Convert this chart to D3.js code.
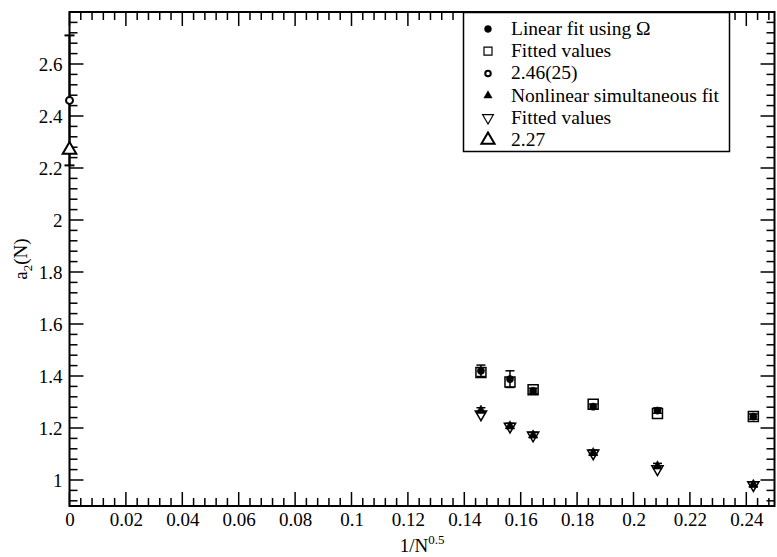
<!DOCTYPE html>
<html><head><meta charset="utf-8">
<script src="https://cdn.jsdelivr.net/npm/d3@7"></script>
<style>body{margin:0;background:#fff}svg{display:block}svg text{font-family:"Liberation Serif","Times New Roman","DejaVu Serif",serif !important;fill:#000}</style>
</head><body><svg id="c" width="777" height="557" font-family="Liberation Serif, Times New Roman, DejaVu Serif, serif"></svg>
<script>
const xs = [0.1459, 0.1562, 0.1644, 0.1857, 0.2085, 0.2425];
const linearFit = [1.420, 1.388, 1.343, 1.282, 1.267, 1.244];
const linearErr = [0.022, 0.032, 0.010, 0.010, 0.010, 0.010];
const linearFitted = [1.413, 1.377, 1.347, 1.291, 1.256, 1.244];
const nonlinFit = [1.268, 1.208, 1.173, 1.105, 1.054, 0.983];
const nonlinErr = [0.010, 0.010, 0.010, 0.010, 0.010, 0.010];
const nonlinFitted = [1.253, 1.206, 1.172, 1.103, 1.042, 0.981];
const extrapLinear = {x: 0, y: 2.46, err: 0.25};
const extrapNonlin = {x: 0, y: 2.27};
const legendLabels = ["Linear fit using \u03A9", "Fitted values", "2.46(25)", "Nonlinear simultaneous fit", "Fitted values", "2.27"];
const xTickVals = d3.range(0, 0.2401, 0.02);
const yTickVals = [1, 1.2, 1.4, 1.6, 1.8, 2, 2.2, 2.4, 2.6];

const FONT = "Liberation Serif, Times New Roman, DejaVu Serif, serif";
const svg = d3.select("#c");
const L = 69.5, R = 774.5, T = 12, B = 506;
const x = d3.scaleLinear().domain([0, 0.25]).range([L, R]);
const y = d3.scaleLinear().domain([0.9, 2.8]).range([B, T]);

const fmt = v => d3.format(".2f")(v).replace(/0+$/, "").replace(/\.$/, "");

// frame
svg.append("rect").attr("x", L).attr("y", T).attr("width", R - L).attr("height", B - T)
  .attr("fill", "none").attr("stroke", "#000").attr("stroke-width", 2);

const xMinor = d3.range(0, 0.2501, 0.004);
const yMinor = d3.range(0.92, 2.801, 0.04);
const tk = svg.append("g").attr("stroke", "#000").attr("stroke-width", 1.5);
xMinor.forEach(v => {
  const isMaj = Math.abs(v / 0.02 - Math.round(v / 0.02)) < 1e-6;
  const len = isMaj ? 14 : 8;
  tk.append("line").attr("x1", x(v)).attr("x2", x(v)).attr("y1", B).attr("y2", B - len);
  tk.append("line").attr("x1", x(v)).attr("x2", x(v)).attr("y1", T).attr("y2", T + len);
});
yMinor.forEach(v => {
  const isMaj = Math.abs(v / 0.2 - Math.round(v / 0.2)) < 1e-6;
  const len = isMaj ? 14 : 8;
  tk.append("line").attr("x1", L).attr("x2", L + len).attr("y1", y(v)).attr("y2", y(v));
  tk.append("line").attr("x1", R).attr("x2", R - len).attr("y1", y(v)).attr("y2", y(v));
});

// tick labels via d3 axis (tick lines hidden)
const xAxis = svg.append("g").attr("transform", `translate(0,${B})`)
  .call(d3.axisBottom(x).tickValues(xTickVals).tickFormat(fmt).tickSize(0).tickPadding(7));
xAxis.attr("font-family", FONT).attr("font-size", 19);
xAxis.select(".domain").remove();
xAxis.selectAll("text").attr("font-size", 19).attr("font-family", FONT).attr("fill", "#000");
const yAxis = svg.append("g").attr("transform", `translate(${L},0)`)
  .call(d3.axisLeft(y).tickValues(yTickVals).tickFormat(fmt).tickSize(0).tickPadding(7));
yAxis.attr("font-family", FONT).attr("font-size", 19);
yAxis.select(".domain").remove();
yAxis.selectAll("text").attr("font-size", 19).attr("font-family", FONT).attr("fill", "#000");

// axis titles
const xt = svg.append("text").attr("x", (L + R) / 2).attr("y", 552).attr("text-anchor", "middle")
  .attr("font-size", 19).attr("font-family", FONT);
xt.append("tspan").text("1/N");
xt.append("tspan").attr("dy", -8).attr("font-size", 13).text("0.5");
const yt = svg.append("text").attr("transform", `translate(27,${(T + B) / 2}) rotate(-90)`).attr("text-anchor", "middle")
  .attr("font-size", 19).attr("font-family", FONT);
yt.append("tspan").text("a");
yt.append("tspan").attr("dy", 5).attr("font-size", 13).text("2");
yt.append("tspan").attr("dy", -5).text("(N)");

// error bars
function errBars(vals, errs) {
  const g = svg.append("g").attr("stroke", "#000").attr("stroke-width", 1.5);
  vals.forEach((v, i) => {
    const cx = x(xs[i]);
    g.append("line").attr("x1", cx).attr("x2", cx).attr("y1", y(v - errs[i])).attr("y2", y(v + errs[i]));
    [v - errs[i], v + errs[i]].forEach(e => g.append("line").attr("x1", cx - 4.5).attr("x2", cx + 4.5).attr("y1", y(e)).attr("y2", y(e)));
  });
}
errBars(linearFit, linearErr);
errBars(nonlinFit, nonlinErr);

const sym = (type, size) => d3.symbol().type(type).size(size)();
const pts = (vals, path, fill, rot) => {
  svg.append("g").selectAll("path").data(vals).join("path")
    .attr("d", path)
    .attr("transform", (d, i) => `translate(${x(xs[i])},${y(d)})${rot ? " rotate(180)" : ""}`)
    .attr("fill", fill ? "#000" : "#fff").attr("fill-opacity", fill ? 1 : 0)
    .attr("stroke", "#000").attr("stroke-width", fill ? 0.5 : 1.5);
};
pts(linearFitted, sym(d3.symbolSquare, 100), false, false);
pts(linearFit, sym(d3.symbolCircle, 42), true, false);
pts(nonlinFitted, sym(d3.symbolTriangle, 55), false, true);
pts(nonlinFit, sym(d3.symbolTriangle, 36), true, false);

// extrapolated points at x=0
const ge = svg.append("g").attr("stroke", "#000").attr("stroke-width", 2);
ge.append("line").attr("x1", x(0)).attr("x2", x(0)).attr("y1", y(extrapLinear.y - extrapLinear.err)).attr("y2", y(extrapLinear.y + extrapLinear.err));
[extrapLinear.y - extrapLinear.err, extrapLinear.y + extrapLinear.err].forEach(e =>
  ge.append("line").attr("x1", x(0) - 5).attr("x2", x(0) + 5).attr("y1", y(e)).attr("y2", y(e)));
svg.append("path").attr("d", sym(d3.symbolCircle, 38)).attr("transform", `translate(${x(extrapLinear.x)},${y(extrapLinear.y)})`)
  .attr("fill", "#fff").attr("stroke", "#000").attr("stroke-width", 2);
svg.append("path").attr("d", sym(d3.symbolTriangle, 80)).attr("transform", `translate(${x(extrapNonlin.x)},${y(extrapNonlin.y)})`)
  .attr("fill", "#fff").attr("stroke", "#000").attr("stroke-width", 2);

// legend
const lg = svg.append("g");
lg.append("rect").attr("x", 463.5).attr("y", 12.5).attr("width", 266).attr("height", 139)
  .attr("fill", "#fff").attr("stroke", "#000").attr("stroke-width", 1.5);
const legSyms = [
  {p: sym(d3.symbolCircle, 38), fill: true, sw: 0.5, rot: false},
  {p: sym(d3.symbolSquare, 64), fill: false, sw: 1.2, rot: false},
  {p: sym(d3.symbolCircle, 24), fill: false, sw: 2, rot: false},
  {p: sym(d3.symbolTriangle, 30), fill: true, sw: 0.5, rot: false},
  {p: sym(d3.symbolTriangle, 50), fill: false, sw: 1.2, rot: true},
  {p: sym(d3.symbolTriangle, 75), fill: false, sw: 2, rot: false}
];
legendLabels.forEach((t, i) => {
  const cy = 29 + i * 22.2;
  const s = legSyms[i];
  lg.append("path").attr("d", s.p).attr("transform", `translate(488,${cy})${s.rot ? " rotate(180)" : ""}`)
    .attr("fill", s.fill ? "#000" : "#fff").attr("stroke", "#000").attr("stroke-width", s.sw);
  lg.append("text").attr("x", 511).attr("y", cy + 6).attr("font-size", 19.5).attr("font-family", FONT).text(t);
});
</script></body></html>
